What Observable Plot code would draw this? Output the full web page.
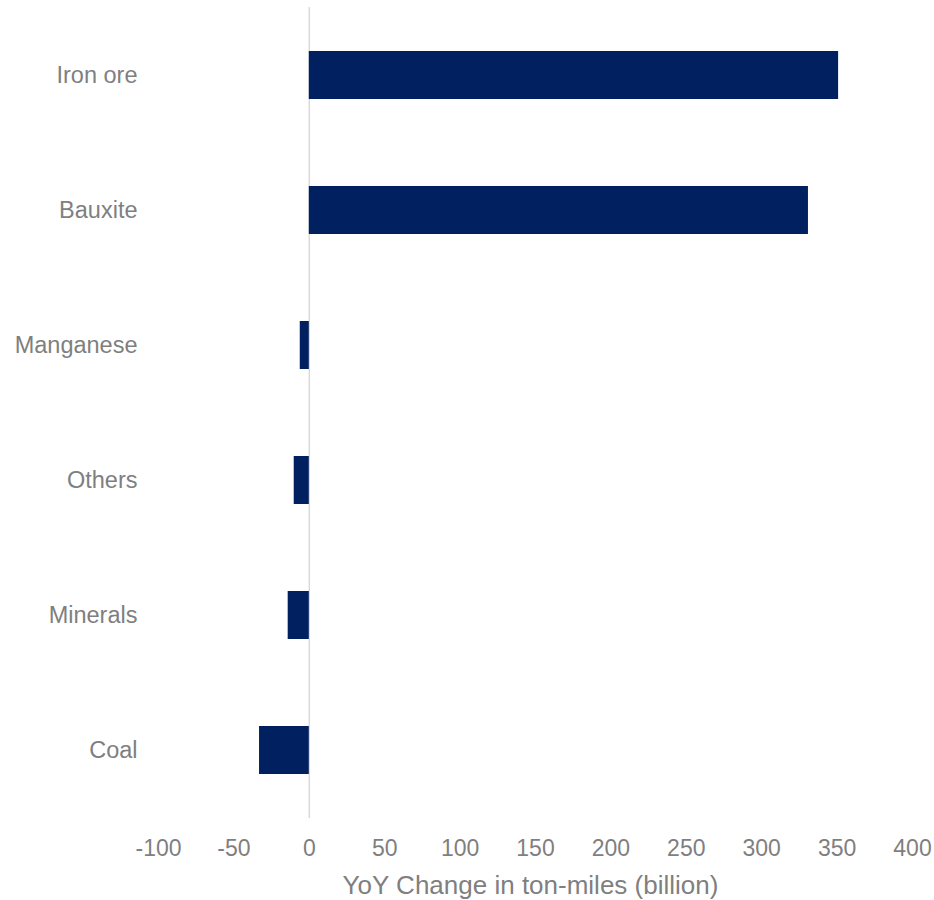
<!DOCTYPE html>
<html>
<head>
<meta charset="utf-8">
<script src="https://cdn.jsdelivr.net/npm/d3@7"></script>
<script src="https://cdn.jsdelivr.net/npm/@observablehq/plot@0.6"></script>
<style>
  html, body { margin: 0; padding: 0; background: #fff; }
  #chart { width: 934px; }
</style>
</head>
<body>
<div id="chart"></div>
<script>
const categories = ["Iron ore", "Bauxite", "Manganese", "Others", "Minerals", "Coal"];
const values = [351, 331, -6, -10, -14, -33];
const xTicks = [-100, -50, 0, 50, 100, 150, 200, 250, 300, 350, 400];
const xLabel = "YoY Change in ton-miles (billion)";

const data = categories.map((name, i) => ({name, value: values[i]}));

const textColor = "#7f7f7f";
const chart = Plot.plot({
  width: 934,
  height: 900,
  marginTop: 7,
  marginBottom: 82,
  marginLeft: 158,
  marginRight: 22,
  style: {fontFamily: "'Liberation Sans', Arial, sans-serif", background: "#fff"},
  x: {domain: [-100, 400]},
  y: {domain: categories, paddingInner: 0.645, paddingOuter: 0.3225},
  marks: [
    Plot.ruleX([0], {stroke: "#d9d9d9", strokeWidth: 1.5}),
    Plot.barX(data, {x1: 0, x2: "value", y: "name", fill: "#002060"}),
    Plot.axisX(xTicks, {
      tickSize: 0, tickPadding: 21, fontSize: 23, color: textColor,
      tickFormat: d => String(d), label: null
    }),
    Plot.axisY({
      tickSize: 0, tickPadding: 21, fontSize: 23.5, color: textColor, label: null
    }),
    Plot.text([xLabel], {
      frameAnchor: "bottom", dy: 75, dx: -5, lineAnchor: "bottom",
      fontSize: 26, fill: textColor
    })
  ]
});
document.getElementById("chart").appendChild(chart);
</script>
</body>
</html>
